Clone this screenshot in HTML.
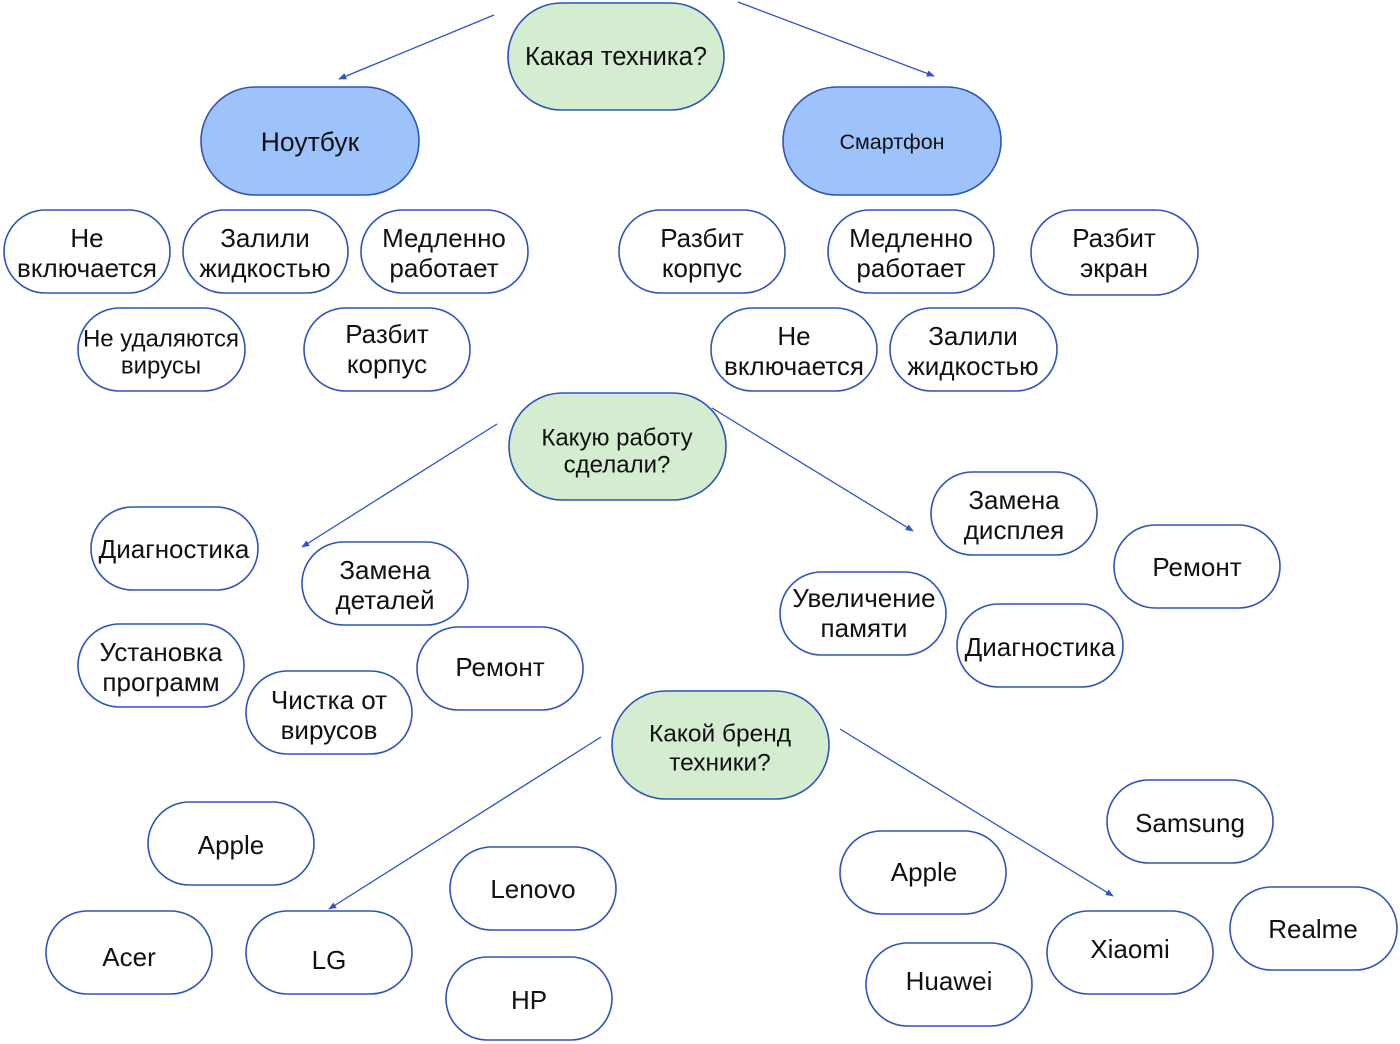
<!DOCTYPE html>
<html><head><meta charset="utf-8"><style>
html,body{margin:0;padding:0;background:#fff}
svg{display:block}
text{font-family:"Liberation Sans","DejaVu Sans",sans-serif;fill:#111;text-anchor:middle;dominant-baseline:central}
.n{fill:#fff;stroke:#2d55b8;stroke-width:1.6}
.g{fill:#d4ecd0;stroke:#2d55b8;stroke-width:1.6}
.b{fill:#9dc3fa;stroke:#2d55b8;stroke-width:1.6}
.l{stroke:#2d55c8;stroke-width:1.3;fill:none;marker-end:url(#a)}
</style></head><body>
<svg width="1400" height="1044" viewBox="0 0 1400 1044" xmlns="http://www.w3.org/2000/svg">
<defs><marker id="a" viewBox="0 0 10 10" refX="9" refY="5" markerWidth="8" markerHeight="8" orient="auto" markerUnits="userSpaceOnUse"><path d="M0,1 L10,5 L0,9 z" fill="#2d55c8"/></marker></defs>
<line class="l" x1="494" y1="15" x2="339" y2="79"/>
<line class="l" x1="738" y1="2" x2="934" y2="76"/>
<line class="l" x1="497" y1="424" x2="302" y2="547"/>
<line class="l" x1="712" y1="408" x2="913" y2="531"/>
<line class="l" x1="601" y1="737" x2="329" y2="909"/>
<line class="l" x1="840" y1="729" x2="1113" y2="896"/>

<rect class="g" x="508" y="3" width="216" height="107" rx="53.5"/><text x="616" y="57" font-size="25.5">Какая техника?</text>
<rect class="b" x="201" y="87" width="218" height="108" rx="54"/><text x="310" y="142" font-size="26.5">Ноутбук</text>
<rect class="b" x="783" y="87" width="218" height="108" rx="54"/><text x="892" y="142" font-size="21.5">Смартфон</text>

<g font-size="26">
<rect class="n" x="4" y="210" width="166" height="83" rx="41.5"/><text x="87" y="238">Не</text><text x="87" y="268">включается</text>
<rect class="n" x="183" y="210" width="165" height="83" rx="41.5"/><text x="265" y="238">Залили</text><text x="265" y="268">жидкостью</text>
<rect class="n" x="361" y="210" width="167" height="83" rx="41.5"/><text x="444" y="238">Медленно</text><text x="444" y="268">работает</text>
<rect class="n" x="78" y="308" width="167" height="83" rx="41.5"/><text x="161" y="339" font-size="24">Не удаляются</text><text x="161" y="366" font-size="24">вирусы</text>
<rect class="n" x="304" y="308" width="166" height="83" rx="41.5"/><text x="387" y="334">Разбит</text><text x="387" y="364">корпус</text>
<rect class="n" x="619" y="210" width="166" height="83" rx="41.5"/><text x="702" y="238">Разбит</text><text x="702" y="268">корпус</text>
<rect class="n" x="828" y="210" width="166" height="83" rx="41.5"/><text x="911" y="238">Медленно</text><text x="911" y="268">работает</text>
<rect class="n" x="1031" y="210" width="167" height="85" rx="42.5"/><text x="1114" y="238">Разбит</text><text x="1114" y="268">экран</text>
<rect class="n" x="711" y="308" width="166" height="83" rx="41.5"/><text x="794" y="336">Не</text><text x="794" y="366">включается</text>
<rect class="n" x="890" y="308" width="167" height="83" rx="41.5"/><text x="973" y="336">Залили</text><text x="973" y="366">жидкостью</text>
</g>

<rect class="g" x="509" y="393" width="217" height="107" rx="53.5"/><text x="617" y="438" font-size="24">Какую работу</text><text x="617" y="465" font-size="24">сделали?</text>

<g font-size="26">
<rect class="n" x="91" y="507" width="167" height="83" rx="41.5"/><text x="174" y="549">Диагностика</text>
<rect class="n" x="302" y="542" width="166" height="83" rx="41.5"/><text x="385" y="570">Замена</text><text x="385" y="600">деталей</text>
<rect class="n" x="78" y="624" width="166" height="83" rx="41.5"/><text x="161" y="652">Установка</text><text x="161" y="682">программ</text>
<rect class="n" x="417" y="627" width="166" height="83" rx="41.5"/><text x="500" y="667">Ремонт</text>
<rect class="n" x="246" y="671" width="166" height="83" rx="41.5"/><text x="329" y="700">Чистка от</text><text x="329" y="730">вирусов</text>
<rect class="n" x="931" y="472" width="166" height="83" rx="41.5"/><text x="1014" y="500">Замена</text><text x="1014" y="530">дисплея</text>
<rect class="n" x="1114" y="525" width="166" height="83" rx="41.5"/><text x="1197" y="567">Ремонт</text>
<rect class="n" x="780" y="572" width="166" height="83" rx="41.5"/><text x="864" y="598">Увеличение</text><text x="864" y="628">памяти</text>
<rect class="n" x="957" y="604" width="166" height="83" rx="41.5"/><text x="1040" y="647">Диагностика</text>
</g>

<rect class="g" x="612" y="691" width="217" height="108" rx="54"/><text x="720" y="734" font-size="24.5">Какой бренд</text><text x="720" y="763" font-size="24.5">техники?</text>

<g font-size="26">
<rect class="n" x="148" y="802" width="166" height="83" rx="41.5"/><text x="231" y="845">Apple</text>
<rect class="n" x="450" y="847" width="166" height="83" rx="41.5"/><text x="533" y="889">Lenovo</text>
<rect class="n" x="46" y="911" width="166" height="83" rx="41.5"/><text x="129" y="957">Acer</text>
<rect class="n" x="246" y="911" width="166" height="83" rx="41.5"/><text x="329" y="960">LG</text>
<rect class="n" x="446" y="957" width="166" height="83" rx="41.5"/><text x="529" y="1000">HP</text>
<rect class="n" x="1107" y="780" width="166" height="83" rx="41.5"/><text x="1190" y="823">Samsung</text>
<rect class="n" x="840" y="831" width="166" height="83" rx="41.5"/><text x="924" y="872">Apple</text>
<rect class="n" x="1230" y="887" width="167" height="83" rx="41.5"/><text x="1313" y="929">Realme</text>
<rect class="n" x="1047" y="911" width="166" height="83" rx="41.5"/><text x="1130" y="949">Xiaomi</text>
<rect class="n" x="866" y="943" width="166" height="83" rx="41.5"/><text x="949" y="981">Huawei</text>
</g>
</svg>
</body></html>
